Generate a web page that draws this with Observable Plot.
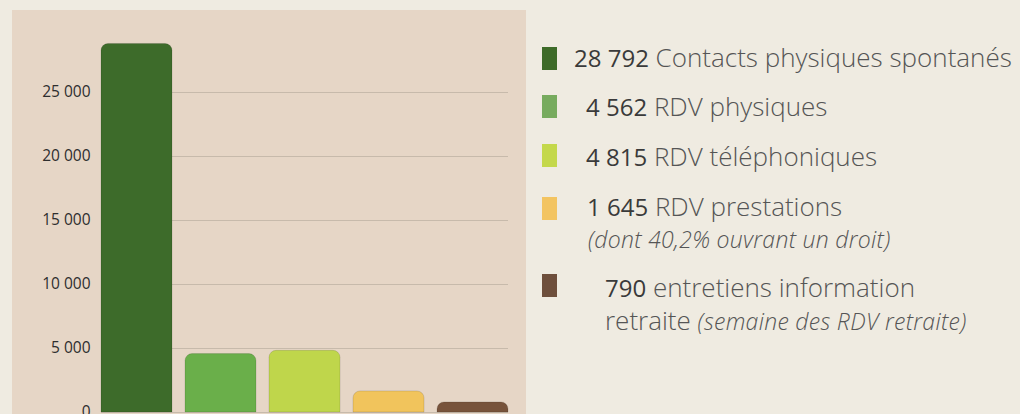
<!DOCTYPE html>
<html>
<head>
<meta charset="utf-8">
<script src="https://cdn.jsdelivr.net/npm/d3@7"></script>
<script src="https://cdn.jsdelivr.net/npm/@observablehq/plot@0.6"></script>
<style>
  html, body { margin: 0; padding: 0; background: #efebe1; }
  #page { position: relative; width: 1020px; height: 414px; overflow: hidden; background: #efebe1; font-family: "Open Sans", sans-serif; }
  #chart { position: absolute; left: 12px; top: 10px; }
  .sq { position: absolute; width: 15px; height: 23px; }
  .ln { position: absolute; white-space: nowrap; line-height: 24px; font-size: 26px; font-weight: 300; color: #555; }
  .ln b { font-weight: 500; color: #3a3a3a; font-size: 24px; }
  .it { font-style: italic; font-size: 23px; font-weight: 300; color: #555; letter-spacing: 0.3px; }
</style>
</head>
<body>
<div id="page">
  <div id="chart"></div>
  <div id="legend"></div>
</div>
<script>
const categories = ["Contacts physiques spontanés", "RDV physiques", "RDV téléphoniques", "RDV prestations", "entretiens information retraite"];
const values = [28792, 4562, 4815, 1645, 790];
const barColors = ["#3d6b2a", "#6aaf4a", "#bfd64b", "#f1c45c", "#77533b"];
const legendColors = ["#3e6b29", "#77ab5e", "#c4d84b", "#f3c461", "#6e4f3c"];
const yTicks = [0, 5000, 10000, 15000, 20000, 25000];

const fmt = d => d3.format(",")(d).replace(/,/g, " ");
const data = categories.map((c, i) => ({cat: c, value: values[i], color: barColors[i]}));

const chart = Plot.plot({
  width: 514,
  height: 404,
  marginLeft: 89,
  marginRight: 18,
  marginTop: 18,
  marginBottom: 2,
  style: {background: "#e6d6c6", fontFamily: "'Open Sans', sans-serif", fontSize: "15.5px", color: "#2e2e2e", overflow: "visible"},
  x: {domain: categories, paddingInner: 0.155, paddingOuter: 0, axis: null},
  y: {domain: [0, 30000], ticks: yTicks, tickFormat: fmt, tickSize: 0, tickPadding: 11, label: null},
  marks: [
    Plot.ruleY(yTicks, {stroke: "#c7baab", strokeWidth: 1}),
    Plot.barY(data, {x: "cat", y: "value", fill: "color", stroke: "#000", strokeOpacity: 0.12, ry1: 7, rx1y1: 7, rx2y1: 7})
  ]
});
document.getElementById("chart").appendChild(chart);

// Legend
const legend = document.getElementById("legend");
const rows = [
  {sq: 47, x: 574, base: 67, extra: null},
  {sq: 95, x: 586, base: 116, extra: null},
  {sq: 144, x: 586, base: 166, extra: null},
  {sq: 197, x: 587, base: 216, extra: {x: 588, base: 248, pre: "", it: "(dont 40,2% ouvrant un droit)"}},
  {sq: 274, x: 605, base: 297, extra: {x: 605, base: 330, pre: "retraite ", it: "(semaine des RDV retraite)"}}
];
const mainText = ["Contacts physiques spontanés", "RDV physiques", "RDV téléphoniques", "RDV prestations", "entretiens information"];
rows.forEach((r, i) => {
  const sq = document.createElement("div");
  sq.className = "sq";
  sq.style.left = "542px";
  sq.style.top = r.sq + "px";
  sq.style.background = legendColors[i];
  legend.appendChild(sq);
  const ln = document.createElement("div");
  ln.className = "ln";
  ln.style.left = r.x + "px";
  ln.style.top = (r.base - 22) + "px";
  ln.innerHTML = "<b>" + fmt(values[i]) + "</b> " + mainText[i];
  legend.appendChild(ln);
  if (r.extra) {
    const ex = document.createElement("div");
    ex.className = "ln";
    ex.style.left = r.extra.x + "px";
    ex.style.top = (r.extra.base - 22) + "px";
    ex.innerHTML = r.extra.pre + '<span class="it">' + r.extra.it + "</span>";
    legend.appendChild(ex);
  }
});
</script>
</body>
</html>
